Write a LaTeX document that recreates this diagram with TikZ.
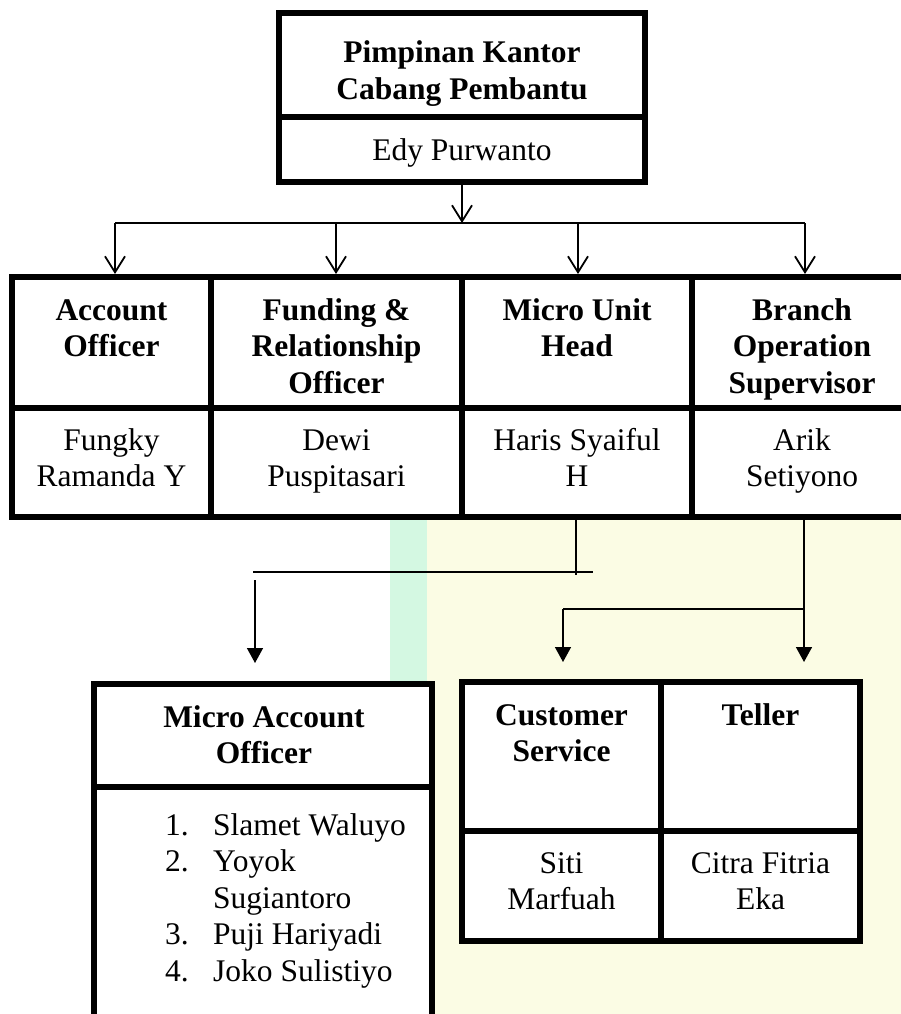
\documentclass[tikz,border=0pt]{standalone}
\usepackage{fontspec}
\setmainfont{Liberation Serif}
\usetikzlibrary{arrows.meta}
\definecolor{paleyellow}{RGB}{251,252,228}
\definecolor{palegreen}{RGB}{212,248,226}
\begin{document}
\begin{tikzpicture}[x=1pt,y=-1pt,
  cell/.style={draw, line width=6pt, fill=white, rectangle, inner sep=0pt, outer sep=0pt},
  lbl/.style={anchor=base, inner sep=0pt, font=\fontsize{31.5}{36.5}\selectfont},
  hd/.style={anchor=base, inner sep=0pt, font=\fontsize{31.5}{36.5}\selectfont\bfseries},
  conn/.style={line width=1.8pt},
  thinline/.style={line width=1.5pt},
  barb/.style={conn, -{Straight Barb[length=16pt,width=20pt,line width=1.8pt]}},
  tri/.style={thinline, -{Triangle[length=15pt,width=16pt]}}
]
\useasboundingbox (0,0) rectangle (901,1014);
\clip (0,0) rectangle (901,1014);
% faint background watermark
\fill[paleyellow] (427,520) rectangle (901,1014);
\fill[palegreen] (390,520) rectangle (427,690);

% top box
\node[cell, minimum width=366pt, minimum height=104pt] (topt) at (462,65) {};
\node[cell, minimum width=366pt, minimum height=65pt] (topn) at (462,149.5) {};
\node[hd] (toptx) at (462,63) {\parbox[t]{350pt}{\centering Pimpinan Kantor\\Cabang Pembantu}};
\node[lbl] (topnx) at (462,160) {Edy Purwanto};

% second row
\node[cell, minimum width=199pt, minimum height=131pt] (ao) at (111.5,342.5) {};
\node[cell, minimum width=199pt, minimum height=109pt] (aon) at (111.5,462.5) {};
\node[cell, minimum width=251pt, minimum height=131pt] (fr) at (336.5,342.5) {};
\node[cell, minimum width=251pt, minimum height=109pt] (frn) at (336.5,462.5) {};
\node[cell, minimum width=230pt, minimum height=131pt] (mu) at (577,342.5) {};
\node[cell, minimum width=230pt, minimum height=109pt] (mun) at (577,462.5) {};
\node[cell, minimum width=220pt, minimum height=131pt] (bo) at (802,342.5) {};
\node[cell, minimum width=220pt, minimum height=109pt] (bon) at (802,462.5) {};

\node[hd] (aotx) at (111.5,320) {\parbox[t]{190pt}{\centering Account\\Officer}};
\node[lbl] (aonx) at (111.5,450) {\parbox[t]{190pt}{\centering Fungky\\Ramanda Y}};
\node[hd] (frtx) at (336.5,320) {\parbox[t]{240pt}{\centering Funding \&\\Relationship\\Officer}};
\node[lbl] (frnx) at (336.5,450) {\parbox[t]{240pt}{\centering Dewi\\Puspitasari}};
\node[hd] (mutx) at (577,320) {\parbox[t]{220pt}{\centering Micro Unit\\Head}};
\node[lbl] (munx) at (577,450) {\parbox[t]{220pt}{\centering Haris Syaiful\\H}};
\node[hd] (botx) at (802,320) {\parbox[t]{210pt}{\centering Branch\\Operation\\Supervisor}};
\node[lbl] (bonx) at (802,450) {\parbox[t]{210pt}{\centering Arik\\Setiyono}};

% bottom left box
\node[cell, minimum width=338pt, minimum height=103pt] (mao) at (263,735.5) {};
\node[cell, minimum width=338pt, minimum height=243pt] (maon) at (263,908.5) {};
\node[hd] (maotx) at (264,727) {\parbox[t]{320pt}{\centering Micro Account\\Officer}};
\node[lbl, anchor=base west] (maonx) at (165,835) {\parbox[t]{260pt}{\raggedright
  \makebox[48pt][l]{1.}Slamet Waluyo\\
  \makebox[48pt][l]{2.}Yoyok\\
  \hspace*{48pt}Sugiantoro\\
  \makebox[48pt][l]{3.}Puji Hariyadi\\
  \makebox[48pt][l]{4.}Joko Sulistiyo}};

% bottom right box
\node[cell, minimum width=199pt, minimum height=149pt] (cs) at (561.5,756.5) {};
\node[cell, minimum width=199pt, minimum height=110pt] (csn) at (561.5,886) {};
\node[cell, minimum width=199pt, minimum height=149pt] (tel) at (760.5,756.5) {};
\node[cell, minimum width=199pt, minimum height=110pt] (teln) at (760.5,886) {};
\node[hd] (cstx) at (561.5,725) {\parbox[t]{190pt}{\centering Customer\\Service}};
\node[lbl] (csnx) at (561.5,873) {\parbox[t]{190pt}{\centering Siti\\Marfuah}};
\node[hd] (teltx) at (760.5,725) {Teller};
\node[lbl] (telnx) at (760.5,873) {\parbox[t]{190pt}{\centering Citra Fitria\\Eka}};

% top connectors
\coordinate (busL) at (115,223);
\coordinate (busR) at (805,223);
\coordinate (d1) at (115,223);
\coordinate (d2) at (336,223);
\coordinate (d3) at (578,223);
\coordinate (d4) at (805,223);
\draw[barb] (topn.south) -- (topn.south |- busL);
\draw[conn] (busL) -- (busR);
\draw[barb, shorten >=3pt] (d1) -- (d1 |- ao.north);
\draw[barb, shorten >=3pt] (d2) -- (d2 |- fr.north);
\draw[barb, shorten >=3pt] (d3) -- (d3 |- mu.north);
\draw[barb, shorten >=3pt] (d4) -- (d4 |- bo.north);

% micro unit head -> micro account officer
\coordinate (mend) at (576,575);
\coordinate (hL) at (253,572);
\coordinate (hR) at (593,572);
\coordinate (ms) at (255,580);
\draw[thinline] (mun.south -| mend) -- (mend);
\draw[thinline] (hL) -- (hR);
\draw[tri, shorten >=21pt] (ms) -- (ms |- mao.north);

% branch operation supervisor -> customer service, teller
\coordinate (bj) at (804,609);
\coordinate (cj) at (563,609);
\draw[thinline] (bon.south -| bj) -- (bj) -- (cj);
\draw[tri, shorten >=20pt] (cj) -- (cj |- cs.north);
\draw[tri, shorten >=20pt] (bj) -- (bj |- tel.north);
\end{tikzpicture}
\end{document}
